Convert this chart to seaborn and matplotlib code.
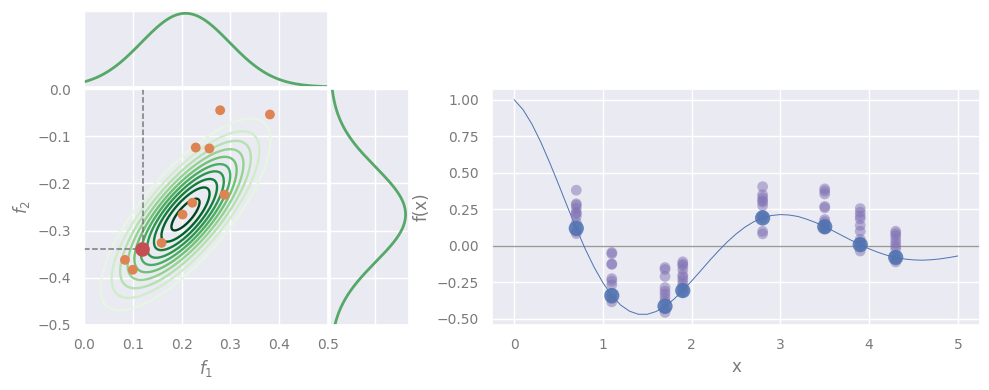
import numpy as np
import pandas as pd
import matplotlib
matplotlib.use("Agg")
import matplotlib.pyplot as plt
import seaborn as sns

# ---------------- data ----------------
# true function sampled on a grid (read from the picture)
line_x = [round(0.1 * i, 1) for i in range(51)]
line_y = [1.000, 0.932, 0.833, 0.710, 0.570, 0.421, 0.268, 0.120, -0.020, -0.145,
          -0.252, -0.340, -0.405, -0.447, -0.468, -0.468, -0.449, -0.413, -0.365, -0.306,
          -0.240, -0.172, -0.102, -0.036, 0.026, 0.081, 0.128, 0.165, 0.191, 0.208,
          0.214, 0.211, 0.201, 0.182, 0.159, 0.131, 0.101, 0.069, 0.038, 0.008,
          -0.020, -0.044, -0.064, -0.079, -0.090, -0.096, -0.098, -0.095, -0.089, -0.080,
          -0.069]

# observed locations and their function values
obs_x = [0.7, 1.1, 1.7, 1.9, 2.8, 3.5, 3.9, 4.3]
obs_y = [0.120, -0.340, -0.413, -0.306, 0.191, 0.131, 0.008, -0.079]

# samples at each location
samples = {
    0.7: [0.381, 0.288, 0.279, 0.257, 0.229, 0.222, 0.202, 0.159, 0.100, 0.084],
    1.1: [-0.054, -0.045, -0.124, -0.126, -0.224, -0.241, -0.266, -0.326, -0.362, -0.383],
    1.7: [-0.148, -0.162, -0.209, -0.285, -0.31, -0.33, -0.355, -0.38, -0.43, -0.455],
    1.9: [-0.109, -0.125, -0.135, -0.163, -0.2, -0.215, -0.237, -0.262, -0.29, -0.315],
    2.8: [0.405, 0.35, 0.33, 0.31, 0.30, 0.275, 0.21, 0.19, 0.10, 0.082],
    3.5: [0.39, 0.375, 0.355, 0.27, 0.26, 0.18, 0.165, 0.14, 0.125, 0.115],
    3.9: [0.255, 0.23, 0.205, 0.185, 0.14, 0.10, 0.045, 0.025, 0.005, -0.035],
    4.3: [0.1, 0.085, 0.07, 0.045, 0.02, 0.0, -0.02, -0.07, -0.09, -0.11],
}

# joint samples (f1 = f(0.7), f2 = f(1.1))
f1_samples = [0.279, 0.381, 0.229, 0.257, 0.288, 0.222, 0.202, 0.159, 0.084, 0.100]
f2_samples = [-0.045, -0.054, -0.124, -0.126, -0.224, -0.241, -0.266, -0.326, -0.362, -0.383]
true_f1, true_f2 = 0.120, -0.340

# bivariate normal parameters for the density (read from the ellipses)
mean_f = [0.208, -0.266]
sd_f = [0.09, 0.105]
rho_f = 0.77
# contour levels as fractions of the peak density
level_frac = [0.154, 0.243, 0.331, 0.419, 0.508, 0.596, 0.684, 0.773, 0.861, 0.95]
# marginal standard deviations
marg_sd = [0.09, 0.10]

# ---------------- style ----------------
sns.set_theme(style="darkgrid")
grey = "#7a7a7a"
plt.rcParams.update({
    "text.color": grey, "axes.labelcolor": grey,
    "xtick.color": grey, "ytick.color": grey,
    "xtick.labelsize": 10, "ytick.labelsize": 10,
    "axes.labelsize": 12,
})
pal = sns.color_palette("deep")

fig = plt.figure(figsize=(9.89, 3.9), dpi=100)
W, H = 989, 390
def rect(x0, y0, x1, y1):
    return [x0 / W, (H - y1) / H, (x1 - x0) / W, (y1 - y0) / H]

ax_main = fig.add_axes(rect(84, 89, 328, 325))
ax_top = fig.add_axes(rect(84, 10, 328, 87))
ax_right = fig.add_axes(rect(330, 89, 409, 325))
ax_fx = fig.add_axes(rect(492, 89, 980, 325))

# density grid
g1 = np.linspace(0, 0.5, 400)
g2 = np.linspace(-0.5, 0, 400)
G1, G2 = np.meshgrid(g1, g2)
s1, s2 = sd_f
z1 = (G1 - mean_f[0]) / s1
z2 = (G2 - mean_f[1]) / s2
Q = (z1 ** 2 - 2 * rho_f * z1 * z2 + z2 ** 2) / (1 - rho_f ** 2)
peak = 1.0 / (2 * np.pi * s1 * s2 * np.sqrt(1 - rho_f ** 2))
dens = peak * np.exp(-0.5 * Q)
ax_main.contour(G1, G2, dens, levels=[f * peak for f in level_frac],
                cmap="Greens", vmin=0.05 * peak, linewidths=1.7)

ax_main.plot([true_f1, true_f1], [0, true_f2], ls="--", color=grey, lw=1.1)
ax_main.plot([0, true_f1], [true_f2, true_f2], ls="--", color=grey, lw=1.1)
sns.scatterplot(x=f1_samples, y=f2_samples, color=pal[1], s=50, edgecolor="none",
                ax=ax_main, zorder=5)
sns.scatterplot(x=[true_f1], y=[true_f2], color=pal[3], s=110, edgecolor="none",
                ax=ax_main, zorder=6)
ax_main.set_xlim(0, 0.5)
ax_main.set_ylim(-0.5, 0)
ax_main.set_xlabel("$f_1$")
ax_main.set_ylabel("$f_2$")

# marginals
m1 = np.exp(-0.5 * ((g1 - mean_f[0]) / marg_sd[0]) ** 2) / (np.sqrt(2 * np.pi) * marg_sd[0])
m2 = np.exp(-0.5 * ((g2 - mean_f[1]) / marg_sd[1]) ** 2) / (np.sqrt(2 * np.pi) * marg_sd[1])
sns.lineplot(x=g1, y=m1, color=pal[2], lw=2, ax=ax_top)
ax_top.set_xlim(0, 0.5)
ax_top.set_ylim(0, m1.max() * 1.045)
ax_top.set_yticks([m1.max() * 1.03])
ax_top.set_xticklabels([])
ax_top.set_yticklabels([])
ax_top.tick_params(length=0)

ax_right.plot(m2, g2, color=pal[2], lw=2)
ax_right.set_ylim(-0.5, 0)
ax_right.set_xlim(0, m2.max() * 1.045)
ax_right.set_xticks([m2.max() * 0.6])
ax_right.set_xticklabels([])
ax_right.set_yticklabels([])
ax_right.tick_params(length=0)

# right panel
rows = []
for xv, vals in samples.items():
    for v in vals:
        rows.append((xv, v))
sdf = pd.DataFrame(rows, columns=["x", "y"])
ax_fx.axhline(0, color="#999999", lw=1, zorder=1)
sns.lineplot(x=line_x, y=line_y, color=pal[0], lw=0.7, ax=ax_fx, zorder=2)
sns.scatterplot(data=sdf, x="x", y="y", color=pal[4], alpha=0.5, s=60,
                edgecolor="none", ax=ax_fx, zorder=3)
sns.scatterplot(x=obs_x, y=obs_y, color=pal[0], alpha=0.85, s=120,
                edgecolor="none", ax=ax_fx, zorder=4)
ax_fx.set_xlabel("x")
ax_fx.set_ylabel("f(x)")
ax_fx.set_yticks([-0.5, -0.25, 0, 0.25, 0.5, 0.75, 1.0])

fig.savefig("out.png", dpi=100)
